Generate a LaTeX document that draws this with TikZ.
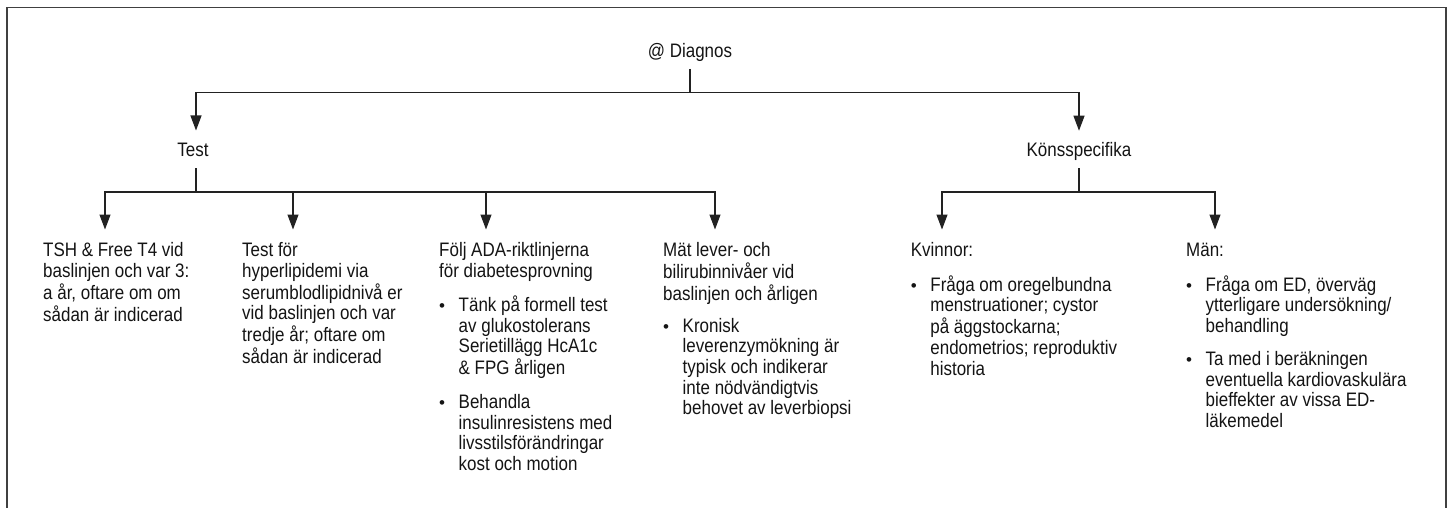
\documentclass[tikz,border=0pt]{standalone}
\usepackage{fontspec}
\setmainfont{Liberation Sans}
\newfontfamily\cond[FakeStretch=0.87]{Liberation Sans}
\usetikzlibrary{arrows.meta}
\definecolor{txt}{HTML}{141414}
\definecolor{ln}{HTML}{222222}
\definecolor{frm}{HTML}{404040}
\newcommand\tf{\cond\fontsize{19.5}{20.7}\selectfont}
\newcommand\bul{\makebox[19.5pt][l]{\hspace{0pt}{\rmfamily\fontsize{17}{17}\selectfont\char"2022}}}
\newcommand\colblock[1]{\begin{tabular}[t]{@{}l@{}}#1\end{tabular}}
\newcommand\bblock[1]{\begin{tabular}[t]{@{}l@{}l@{}}#1\end{tabular}}
\tikzset{
  hd/.style={font=\tf, inner sep=0pt, anchor=base, text=txt},
  cb/.style={font=\tf, inner sep=0pt, anchor=base west, text=txt},
  conn/.style={draw=ln, line width=1.1pt},
  arr/.style={conn, -{Triangle[length=15pt,width=11pt]}},
  framestyle/.style={draw=frm, line width=1.8pt}
}
\begin{document}
\begin{tikzpicture}[x=1pt,y=1pt]
\useasboundingbox (0,0) rectangle (1448,-508);
\fill[white] (0,0) rectangle (1448,-508);
\draw[framestyle] (7,-512) -- (7,-7.5) -- (1446,-7.5) -- (1446,-512);

% top level
\node[hd] (diag) at (690,-58) {@ Diagnos};
\node[hd] (test) at (193,-156.5) {Test};
\node[hd] (kons) at (1079,-157) {Könsspecifika};

% columns
\node[cb] (c1) at (43,-256.5) {\colblock{TSH \& Free T4 vid\\baslinjen och var 3:\\a år, oftare om om\\sådan är indicerad}};
\node[cb] (c2) at (242,-256.5) {\colblock{Test för\\hyperlipidemi via\\serumblodlipidnivå er\\vid baslinjen och var\\tredje år; oftare om\\sådan är indicerad}};
\node[cb] (c3) at (439,-256.5) {\colblock{Följ ADA-riktlinjerna\\för diabetesprovning}};
\node[cb] (c3a) at (439,-311.5) {\bblock{\bul & Tänk på formell test\\ & av glukostolerans\\ & Serietillägg HcA1c\\ & \& FPG årligen}};
\node[cb] (c3b) at (439,-408.5) {\bblock{\bul & Behandla\\ & insulinresistens med\\ & livsstilsförändringar\\ & kost och motion}};
\node[cb] (c4) at (663,-256.5) {\colblock{Mät lever- och\\bilirubinnivåer vid\\baslinjen och årligen}};
\node[cb] (c4a) at (663,-332) {\bblock{\bul & Kronisk\\ & leverenzymökning är\\ & typisk och indikerar\\ & inte nödvändigtvis\\ & behovet av leverbiopsi}};
\node[cb] (c5) at (910.7,-256.5) {\colblock{Kvinnor:}};
\node[cb] (c5a) at (910.7,-291) {\bblock{\bul & Fråga om oregelbundna\\ & menstruationer; cystor\\ & på äggstockarna;\\ & endometrios; reproduktiv\\ & historia}};
\node[cb] (c6) at (1186,-256.5) {\colblock{Män:}};
\node[cb] (c6a) at (1186,-291) {\bblock{\bul & Fråga om ED, överväg\\ & ytterligare undersökning/\\ & behandling}};
\node[cb] (c6b) at (1186,-365.4) {\bblock{\bul & Ta med i beräkningen\\ & eventuella kardiovaskulära\\ & bieffekter av vissa ED-\\ & läkemedel}};

% junctions
\coordinate (j0) at (690,-92.5);
\coordinate (j1) at (196,-192);
\coordinate (j2) at (1079,-192);

% connectors
\draw[conn] ([yshift=-11pt]diag.base) -- (j0);
\draw[arr] (j0) -| ([xshift=3pt,yshift=26pt]test.base);
\draw[arr] (j0) -| ([yshift=26.3pt]kons.base);

\draw[conn] ([xshift=3pt,yshift=-11.5pt]test.base) -- (j1);
\draw[arr] (j1) -| ([xshift=62pt,yshift=27pt]c1.base west);
\draw[arr] (j1) -| ([xshift=51pt,yshift=27pt]c2.base west);
\draw[arr] (j1) -| ([xshift=47pt,yshift=27pt]c3.base west);
\draw[arr] (j1) -| ([xshift=52pt,yshift=27pt]c4.base west);

\draw[conn] ([yshift=-11pt]kons.base) -- (j2);
\draw[arr] (j2) -| ([xshift=31.3pt,yshift=27pt]c5.base west);
\draw[arr] (j2) -| ([xshift=29pt,yshift=27pt]c6.base west);
\end{tikzpicture}
\end{document}
